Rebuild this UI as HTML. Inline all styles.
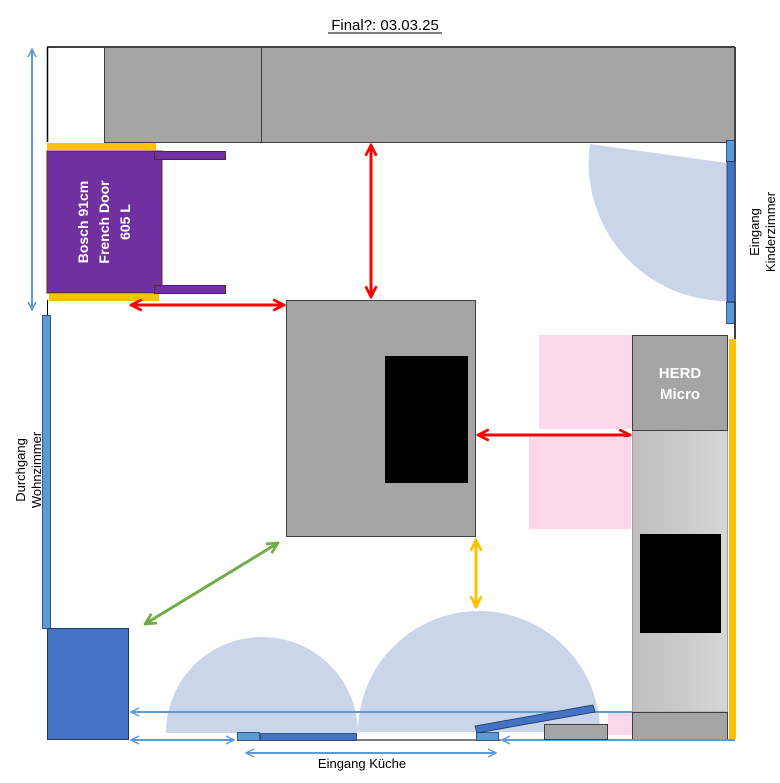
<!DOCTYPE html>
<html><head><meta charset="utf-8"><style>
html,body{margin:0;padding:0;background:#fff;}
svg{display:block;font-family:"Liberation Sans",sans-serif;}
</style></head><body>
<svg width="780" height="783" viewBox="0 0 780 783" xmlns="http://www.w3.org/2000/svg">
<defs>
<marker id="ar" viewBox="0 0 10 10" refX="9" refY="5" markerWidth="4.5" markerHeight="4.5" orient="auto-start-reverse"><polyline points="1,1 9,5 1,9" fill="none" stroke="#ff0000" stroke-width="2"/></marker>
<marker id="ab" viewBox="0 0 10 10" refX="9" refY="5" markerWidth="5" markerHeight="5" orient="auto-start-reverse"><polyline points="1,1 9,5 1,9" fill="none" stroke="#5b9bd5" stroke-width="1.5"/></marker>
<marker id="ay" viewBox="0 0 10 10" refX="9" refY="5" markerWidth="4.5" markerHeight="4.5" orient="auto-start-reverse"><polyline points="1,1 9,5 1,9" fill="none" stroke="#ffc000" stroke-width="2"/></marker>
<marker id="ag" viewBox="0 0 10 10" refX="9" refY="5" markerWidth="4.5" markerHeight="4.5" orient="auto-start-reverse"><polyline points="1,1 9,5 1,9" fill="none" stroke="#70ad47" stroke-width="2"/></marker>
<linearGradient id="gr" x1="0" x2="1" y1="0" y2="0"><stop offset="0" stop-color="#bfbfbf"/><stop offset="1" stop-color="#d6d6d6"/></linearGradient>
</defs>

<text x="385" y="30" font-size="15" text-anchor="middle" fill="#000">Final?: 03.03.25</text>
<line x1="328" y1="33" x2="442" y2="33" stroke="#000" stroke-width="1"/>

<!-- room outline -->
<line x1="47" y1="47" x2="735" y2="47" stroke="#000" stroke-width="1.5"/>
<line x1="47.5" y1="47" x2="47.5" y2="142" stroke="#000" stroke-width="1.5"/>
<line x1="47.5" y1="300" x2="47.5" y2="316" stroke="#000" stroke-width="1"/>
<line x1="735" y1="47" x2="735" y2="340" stroke="#000" stroke-width="1.5"/>
<line x1="356" y1="740" x2="735" y2="740" stroke="#000" stroke-width="1"/>

<!-- door swings -->
<path d="M727,163 L590,144 A138,138 0 0 0 727,301 Z" fill="#cad5e9"/>
<path d="M166,733 A96,96 0 0 1 358,733 Z" fill="#cad5e9"/>
<path d="M358,732 A121,121 0 0 1 600,732 Z" fill="#cad5e9"/>

<!-- top cabinets -->
<rect x="104.5" y="47.5" width="630" height="95" fill="#a5a5a5" stroke="#404040"/>
<line x1="261.5" y1="47" x2="261.5" y2="142" stroke="#404040"/>

<!-- fridge -->
<rect x="47" y="143" width="109" height="7" fill="#ffc000"/>
<rect x="47" y="151" width="115" height="142" fill="#7030a0" stroke="#5a2a10" stroke-width="1"/>
<rect x="154.5" y="151.5" width="71" height="8" fill="#7030a0" stroke="#5a2a10"/>
<rect x="154.5" y="285.5" width="71" height="8" fill="#7030a0" stroke="#5a2a10"/>
<rect x="49" y="294" width="110" height="7" fill="#ffc000"/>
<text transform="translate(104,222) rotate(-90)" font-size="14" font-weight="bold" fill="#fff" text-anchor="middle"><tspan x="0" y="-16">Bosch 91cm</tspan><tspan x="0" y="5">French Door</tspan><tspan x="0" y="26">605 L</tspan></text>

<!-- arrows -->
<line x1="32" y1="49" x2="32" y2="310" stroke="#5b9bd5" stroke-width="2" marker-start="url(#ab)" marker-end="url(#ab)"/>
<line x1="131" y1="305" x2="284" y2="305" stroke="#ff0000" stroke-width="3" marker-start="url(#ar)" marker-end="url(#ar)"/>
<line x1="371" y1="145" x2="371" y2="297" stroke="#ff0000" stroke-width="3" marker-start="url(#ar)" marker-end="url(#ar)"/>
<line x1="478" y1="435" x2="630" y2="435" stroke="#ff0000" stroke-width="3" marker-start="url(#ar)" marker-end="url(#ar)"/>
<line x1="476" y1="540" x2="476" y2="607" stroke="#ffc000" stroke-width="3" marker-start="url(#ay)" marker-end="url(#ay)"/>
<line x1="278" y1="543" x2="145" y2="624" stroke="#70ad47" stroke-width="3" marker-start="url(#ag)" marker-end="url(#ag)"/>

<!-- island -->
<rect x="286.5" y="300.5" width="189" height="236" fill="#a5a5a5" stroke="#404040"/>
<rect x="385" y="356" width="83" height="127" fill="#000"/>

<!-- right door -->
<rect x="726.5" y="140.5" width="8" height="21" fill="#5b9bd5" stroke="#1f3864" stroke-width="0.8"/>
<rect x="727" y="161.5" width="8" height="140" fill="#4472c4" stroke="#1f3864" stroke-width="0.8"/>
<rect x="726.5" y="302.5" width="8" height="21" fill="#5b9bd5" stroke="#1f3864" stroke-width="0.8"/>
<text transform="translate(759,232) rotate(-90)" font-size="13" fill="#000" text-anchor="middle"><tspan x="0" y="0">Eingang</tspan><tspan x="0" y="16">Kinderzimmer</tspan></text>

<!-- pink -->
<rect x="539" y="335" width="93" height="94" fill="#fdd7ec"/>
<rect x="529" y="437" width="102" height="92" fill="#fdd7ec"/>
<rect x="608" y="712" width="24" height="23" fill="#fdd7ec"/>

<!-- stove column -->
<rect x="632.5" y="430" width="95" height="282" fill="url(#gr)" stroke="#a0a0a0"/>
<rect x="632.5" y="335.5" width="95" height="95" fill="#a5a5a5" stroke="#404040"/>
<text x="680" y="378" font-size="15" font-weight="bold" fill="#fff" text-anchor="middle">HERD</text>
<text x="680" y="399" font-size="15" font-weight="bold" fill="#fff" text-anchor="middle">Micro</text>
<rect x="640" y="534" width="81" height="99" fill="#000"/>
<rect x="632.5" y="712.5" width="95" height="27" fill="#a5a5a5" stroke="#404040"/>
<rect x="729" y="339" width="7" height="400" fill="#ffc000"/>

<!-- left passage -->
<rect x="42.5" y="315.5" width="8" height="313" fill="#5b9bd5" stroke="#1f3864" stroke-width="0.8"/>
<text transform="translate(30,470) rotate(-90)" font-size="13" fill="#000" text-anchor="middle"><tspan x="0" y="-5">Durchgang</tspan><tspan x="0" y="11">Wohnzimmer</tspan></text>
<rect x="47.5" y="628.5" width="81" height="111" fill="#4472c4" stroke="#1f3864"/>

<!-- bottom -->
<line x1="131" y1="712" x2="632" y2="712" stroke="#5b9bd5" stroke-width="2" marker-start="url(#ab)"/>
<line x1="131" y1="740" x2="234" y2="740" stroke="#5b9bd5" stroke-width="2" marker-start="url(#ab)" marker-end="url(#ab)"/>
<line x1="502" y1="740" x2="735" y2="740" stroke="#5b9bd5" stroke-width="2" marker-start="url(#ab)"/>
<line x1="246" y1="753" x2="496" y2="753" stroke="#5b9bd5" stroke-width="2" marker-start="url(#ab)" marker-end="url(#ab)"/>
<rect x="237.5" y="732.5" width="22" height="8" fill="#5b9bd5" stroke="#1f3864" stroke-width="0.8"/>
<rect x="260.5" y="733.5" width="96" height="7" fill="#4472c4" stroke="#1f3864" stroke-width="0.8"/>
<rect x="476.5" y="732.5" width="22" height="8" fill="#5b9bd5" stroke="#1f3864" stroke-width="0.8"/>
<polygon points="475,726 593,705 595,712 477,733" fill="#4472c4" stroke="#1f3864" stroke-width="0.8"/>
<rect x="544.5" y="724.5" width="63" height="15" fill="#a5a5a5" stroke="#404040"/>
<text x="362" y="768" font-size="13" fill="#000" text-anchor="middle">Eingang Küche</text>
</svg>
</body></html>
